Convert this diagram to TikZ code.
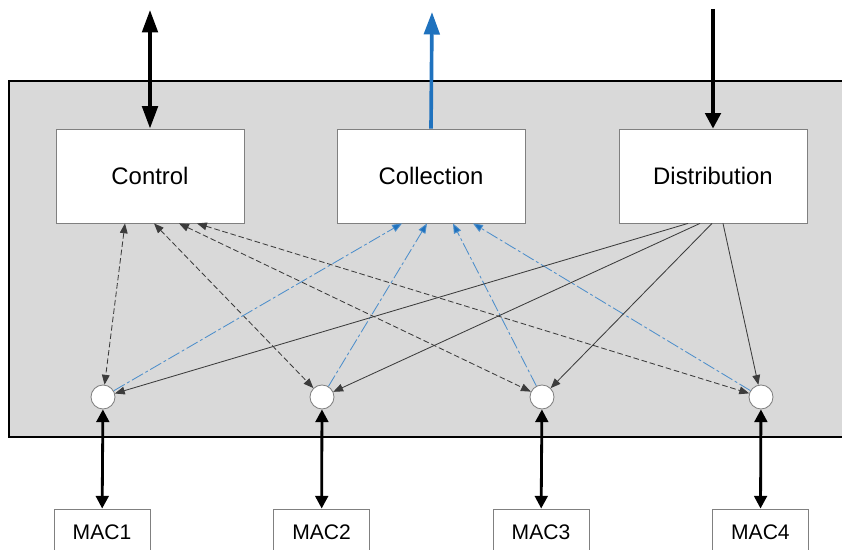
\documentclass[tikz,border=0pt]{standalone}
\usepackage{fontspec}
\setsansfont{Liberation Sans}
\usepackage{tikz}
\usetikzlibrary{arrows.meta, positioning}
\definecolor{mxGrey}{HTML}{D9D9D9}
\definecolor{mxEdge}{HTML}{808080}
\definecolor{mxBlue}{HTML}{1F72BE}
\definecolor{mxLine}{HTML}{3C3C3C}

\begin{document}
\begin{tikzpicture}[
  font=\sffamily,
  blk/.style={draw=mxEdge, fill=white, line width=0.6pt, minimum width=4.7cm,
              minimum height=2.35cm, font=\fontsize{17}{20}\selectfont\sffamily},
  mac/.style={draw=mxEdge, fill=white, line width=0.6pt, minimum width=2.4cm,
              minimum height=1.15cm, font=\fontsize{15}{18}\selectfont\sffamily},
  port/.style={circle, draw=mxEdge, fill=white, line width=0.6pt,
               minimum size=0.6cm, inner sep=0pt},
  iobi/.style={line width=2.6pt, {Triangle[length=16pt,width=11pt]}-{Triangle[length=16pt,width=11pt]}},
  ioout/.style={draw=mxBlue, line width=2.6pt, -{Triangle[length=16pt,width=11pt]}},
  ioin/.style={line width=2.4pt, -{Triangle[length=11pt,width=11pt]}},
  macio/.style={line width=2pt, {Triangle[length=9pt,width=9pt]}-{Triangle[length=9pt,width=9pt]}},
  ctl/.style={draw=mxLine, line width=0.6pt, dash pattern=on 4pt off 2pt,
              {Triangle[length=7pt,width=5.5pt]}-{Triangle[length=7pt,width=5.5pt]}},
  col/.style={draw=mxBlue!80, line width=0.6pt, dash pattern=on 9pt off 2pt on 2pt off 2pt,
              -{Triangle[length=7pt,width=5.5pt,fill=mxBlue]}},
  dst/.style={draw=mxLine, line width=0.6pt, -{Triangle[length=7pt,width=5.5pt]}},
]
\useasboundingbox (0,0) rectangle (21.05,13.75);
\clip (0,0) rectangle (21.05,13.75);

% ---------------- system frame ----------------
\draw[fill=mxGrey, line width=1.4pt] (0.225,2.825) rectangle (21.6,11.725);

% ---------------- function blocks ----------------
\node[blk] (ctrl) at (3.75,9.35)   {Control};
\node[blk] (coll) at (10.775,9.35) {Collection};
\node[blk] (dist) at (17.825,9.35) {Distribution};

% ---------------- ports ----------------
\node[port] (p1) at (2.575,3.825) {};
\node[port] (p2) at (8.05,3.825)  {};
\node[port] (p3) at (13.55,3.825) {};
\node[port] (p4) at (19.025,3.825) {};

% ---------------- MACs ----------------
\node[mac] (m1) at (2.55,0.45)   {MAC1};
\node[mac] (m2) at (8.04,0.45)   {MAC2};
\node[mac] (m3) at (13.525,0.45) {MAC3};
\node[mac] (m4) at (19.01,0.45)  {MAC4};

% ---------------- outside links ----------------
\coordinate (ctrlio) at (3.75,13.5);
\coordinate (collout) at (10.8,13.45);
\coordinate (distin) at (17.825,13.525);
\draw[iobi] (ctrlio) -- (ctrl.north);
\draw[ioout] (coll.north) -- (collout);
\draw[ioin] (distin) -- (dist.north);

% ---------------- control <-> ports ----------------
\draw[ctl] ([xshift=-0.625cm]ctrl.south) -- (p1);
\draw[ctl] ([xshift=0.1cm]ctrl.south) -- (p2);
\draw[ctl] ([xshift=0.725cm]ctrl.south) -- (p3);
\draw[ctl] ([xshift=1.175cm]ctrl.south) -- (p4);

% ---------------- ports -> collection ----------------
\draw[col] (p1) -- ([xshift=-0.725cm]coll.south);
\draw[col] (p2) -- ([xshift=-0.1cm]coll.south);
\draw[col] (p3) -- ([xshift=0.55cm]coll.south);
\draw[col] (p4) -- ([xshift=1.05cm]coll.south);

% ---------------- distribution -> ports ----------------
\draw[dst] ([xshift=-0.625cm]dist.south) -- (p1);
\draw[dst] ([xshift=-0.325cm]dist.south) -- (p2);
\draw[dst] ([xshift=-0.025cm]dist.south) -- (p3);
\draw[dst] ([xshift=0.25cm]dist.south) -- (p4);

% ---------------- ports <-> MACs ----------------
\draw[macio] (p1) -- (m1);
\draw[macio] (p2) -- (m2);
\draw[macio] (p3) -- (m3);
\draw[macio] (p4) -- (m4);
\end{tikzpicture}
\end{document}
